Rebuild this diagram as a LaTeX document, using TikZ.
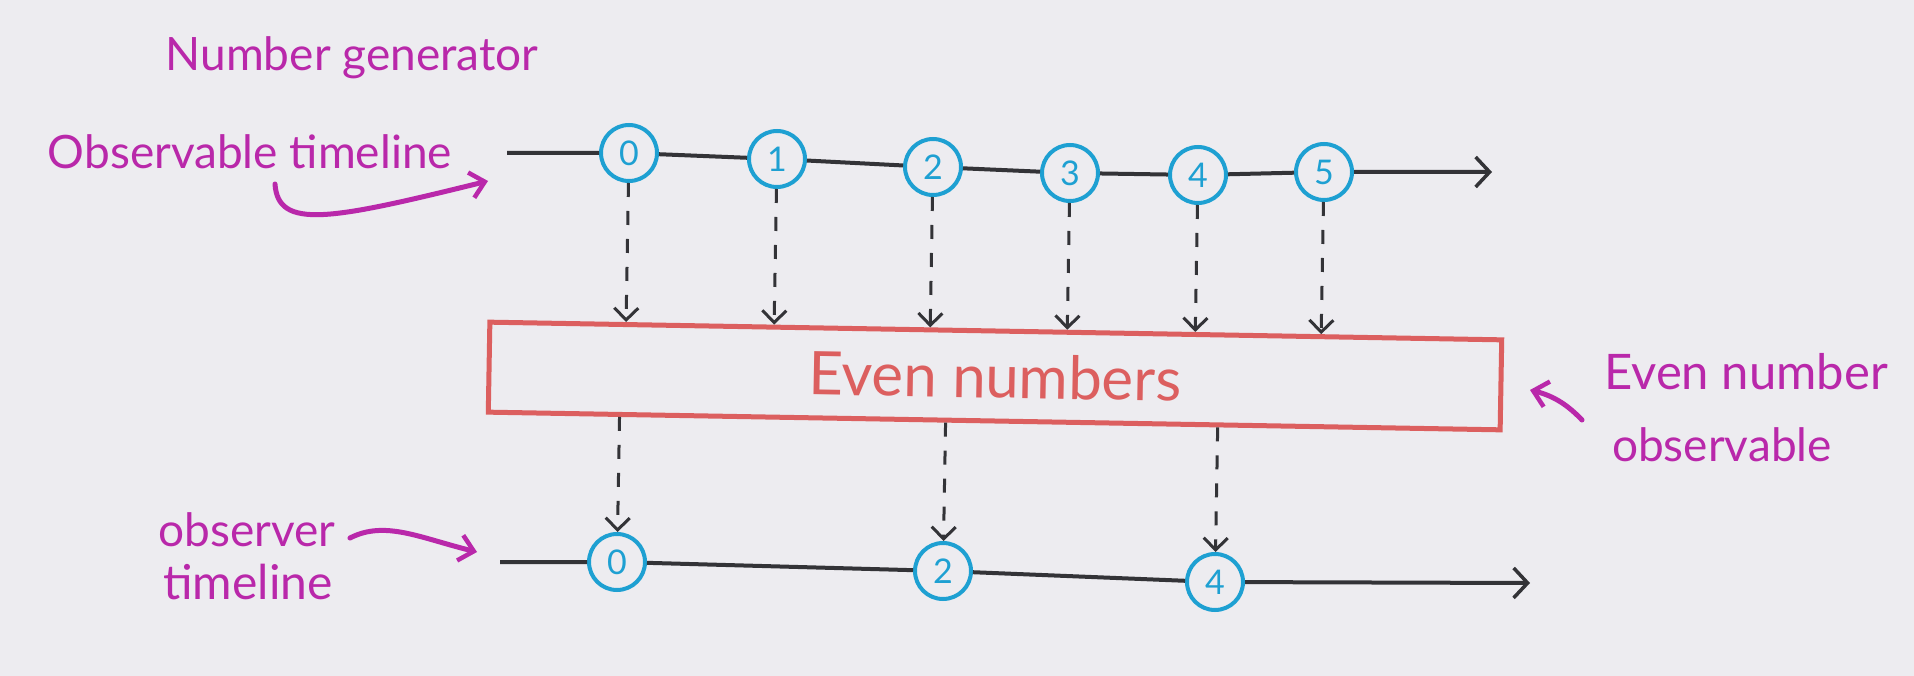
\documentclass[tikz,border=0pt]{standalone}
\usepackage{fontspec}
\setmainfont{Lato}
\usetikzlibrary{arrows.meta,calc}
\definecolor{paper}{HTML}{EDECF0}
\definecolor{pink}{HTML}{B928AA}
\definecolor{cyanb}{HTML}{1EA0D2}
\definecolor{redb}{HTML}{DC5F5F}
\definecolor{ink}{HTML}{333337}
\begin{document}
\begin{tikzpicture}[x=1pt,y=-1pt,
  num/.style={circle,draw=cyanb,line width=4pt,minimum size=56pt,inner sep=0pt,text=cyanb,font=\fontsize{34}{36}\selectfont},
  tline/.style={draw=ink,line width=4pt,-{Straight Barb[length=14pt,width=30pt,line width=3.5pt]}},
  flow/.style={draw=ink,line width=3pt,dash pattern=on 14pt off 14pt,-{Straight Barb[length=12pt,width=24pt,line width=3pt]}},
  note/.style={text=pink,font=\fontsize{46}{50}\selectfont},
  noteline/.style={draw=pink,line width=5pt,line cap=round,-{Straight Barb[length=14pt,width=26pt,line width=4.5pt]}}]
\useasboundingbox[fill=paper] (0,0) rectangle (1914,676);
% labels
\node[note] (lgen) at (352,58) {Number generator};
\node[note] (lobs) at (250,152) {Observable timeline};
\node[note,font=\fontsize{49}{52}\selectfont] (leven) at (1746,372) {Even number};
\node[note] (leobs) at (1722,445) {observable};
\node[note] (lobsr) at (247,530) {observer};
\node[note,font=\fontsize{48}{52}\selectfont] (ltime) at (248,582) {timeline};
% top timeline
\coordinate (ts) at (507,153);
\node[num] (t0) at (629,153) {0};
\node[num] (t1) at (777,159) {1};
\node[num] (t2) at (933,167) {2};
\node[num] (t3) at (1070,173) {3};
\node[num] (t4) at (1198,175) {4};
\node[num] (t5) at (1324,172) {5};
\coordinate (te) at (1492,172);
\draw[tline] (ts) -- (t0) -- (t1) -- (t2) -- (t3) -- (t4) -- (t5) -- (te);
% operator box
\node[draw=redb,line width=5pt,minimum width=1012pt,minimum height=90pt,rotate=-1,text=redb,font=\fontsize{60}{62}\selectfont] (box) at (995,376) {Even numbers};
% bottom timeline
\coordinate (bs) at (500,562);
\node[num] (b0) at (617,562) {0};
\node[num] (b2) at (943,571) {2};
\node[num] (b4) at (1215,582) {4};
\coordinate (be) at (1530,583);
\draw[tline] (bs) -- (b0) -- (b2) -- (b4) -- (be);
% dashed arrows into the box
\foreach \t in {t0,t1,t2,t3,t4,t5}{
  \draw[flow] (\t) -- ($(box.north west)!(\t)!(box.north east)$);
}
% dashed arrows out of the box
\foreach \b in {b0,b2,b4}{
  \draw[flow] ($(box.south west)!(\b)!(box.south east)$) -- (\b);
}
% annotation arrows
\coordinate (a1s) at (275,184);
\coordinate (a1e) at (488,181);
\draw[noteline] (a1s) .. controls (278,230) and (330,220) .. (a1e);
\coordinate (a2s) at (350,538);
\coordinate (a2e) at (477,552);
\draw[noteline] (a2s) .. controls (385,520) and (420,538) .. (a2e);
\coordinate (a3s) at (1582,420);
\coordinate (a3e) at (1530,390);
\draw[noteline] (a3s) .. controls (1565,402) and (1550,395) .. (a3e);
\end{tikzpicture}
\end{document}
